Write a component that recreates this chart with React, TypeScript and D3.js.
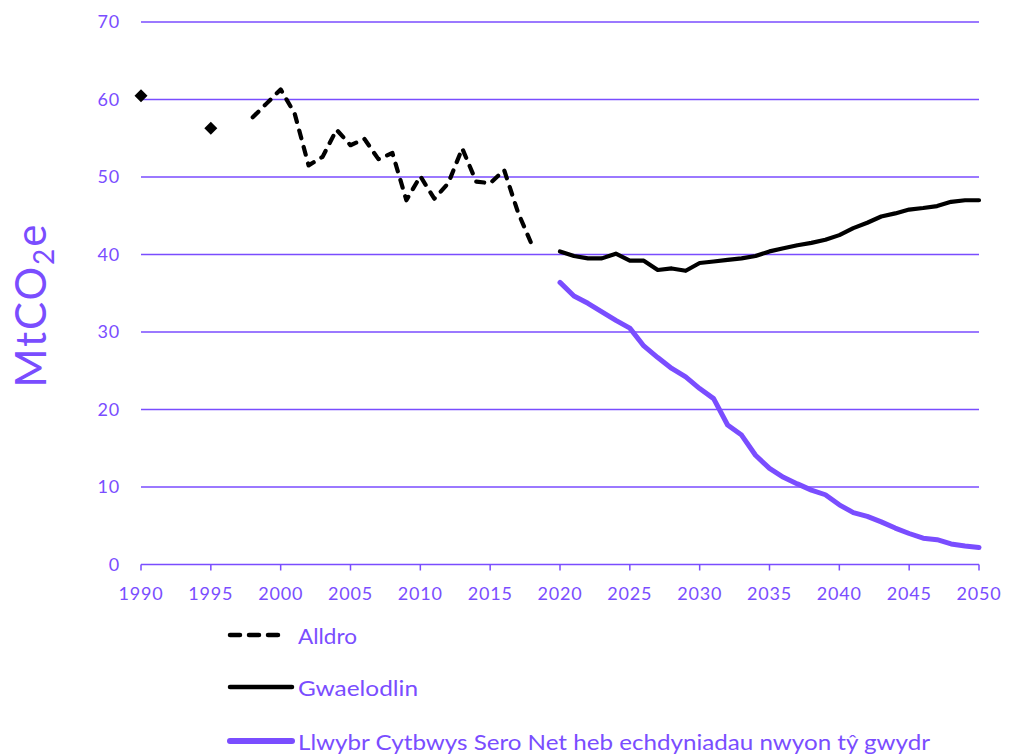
import React from "react";
import * as d3 from "d3";

const PURPLE = "#7a4dff";

const historicYears = [1990, 1995];
const historicValues = [60.5, 56.3];

const alldroYears = [1998, 1999, 2000, 2001, 2002, 2003, 2004, 2005, 2006, 2007, 2008, 2009, 2010, 2011, 2012, 2013, 2014, 2015, 2016, 2017, 2018];
const alldroValues = [57.7, 59.5, 61.3, 58.2, 51.5, 52.6, 56.1, 54.1, 54.9, 52.3, 53.1, 47.0, 50.1, 47.2, 49.2, 53.7, 49.4, 49.2, 50.9, 45.4, 41.2];

const projYears = [2020, 2021, 2022, 2023, 2024, 2025, 2026, 2027, 2028, 2029, 2030, 2031, 2032, 2033, 2034, 2035, 2036, 2037, 2038, 2039, 2040, 2041, 2042, 2043, 2044, 2045, 2046, 2047, 2048, 2049, 2050];
const baselineValues = [40.4, 39.8, 39.5, 39.5, 40.1, 39.2, 39.2, 38.0, 38.2, 37.9, 38.9, 39.1, 39.3, 39.5, 39.8, 40.4, 40.8, 41.2, 41.5, 41.9, 42.5, 43.4, 44.1, 44.9, 45.3, 45.8, 46.0, 46.25, 46.8, 47.0, 47.0];
const netZeroValues = [36.4, 34.65, 33.7, 32.6, 31.5, 30.5, 28.2, 26.7, 25.3, 24.2, 22.7, 21.4, 18.0, 16.7, 14.1, 12.4, 11.25, 10.4, 9.6, 9.0, 7.7, 6.7, 6.2, 5.5, 4.7, 4.0, 3.4, 3.2, 2.65, 2.4, 2.2];

const yTicks = [0, 10, 20, 30, 40, 50, 60, 70];
const xTicks = [1990, 1995, 2000, 2005, 2010, 2015, 2020, 2025, 2030, 2035, 2040, 2045, 2050];

const legendLabels = ["Alldro", "Gwaelodlin", "Llwybr Cytbwys Sero Net heb echdyniadau nwyon tŷ gwydr"];
const legendWidths = [59, 120, 632];

const FONT = "'Century Gothic', 'Lato', 'Open Sans', sans-serif";

export default function App() {
  const W = 1022, H = 754;
  const x = d3.scaleLinear().domain([1990, 2050]).range([141, 979]);
  const y = d3.scaleLinear().domain([0, 70]).range([564.5, 22]);
  const line = d3.line<[number, number]>().x(d => x(d[0])).y(d => y(d[1]));

  const alldro = line(alldroYears.map((yr, i) => [yr, alldroValues[i]]));
  const base = line(projYears.map((yr, i) => [yr, baselineValues[i]]));
  const nz = line(projYears.map((yr, i) => [yr, netZeroValues[i]]));

  const legendY = [635, 687, 741];

  return (
    <svg width={W} height={H} style={{ position: "absolute", left: 0, top: 0, background: "#fff" }} fontFamily={FONT}>
      {yTicks.filter(t => t > 0).map(t => (
        <line key={t} x1={x(1990)} x2={x(2050)} y1={y(t)} y2={y(t)} stroke={PURPLE} strokeWidth={1.5} />
      ))}
      <line x1={x(1990)} x2={x(2050)} y1={y(0)} y2={y(0)} stroke={PURPLE} strokeWidth={1.5} />
      {xTicks.map(t => (
        <line key={t} x1={x(t)} x2={x(t)} y1={y(0)} y2={y(0) + 6} stroke={PURPLE} strokeWidth={1.5} />
      ))}
      {yTicks.map(t => (
        <text key={t} x={120} y={y(t)} dy="0.36em" textAnchor="end" fontSize={18} letterSpacing={0.8} fill={PURPLE}>{t}</text>
      ))}
      {xTicks.map(t => (
        <text key={t} x={x(t)} y={600} textAnchor="middle" fontSize={18} letterSpacing={0.8} fill={PURPLE}>{t}</text>
      ))}
      <text transform="translate(46,305) rotate(-90)" textAnchor="middle" fontSize={42} fill={PURPLE} letterSpacing={2}>
        MtCO<tspan fontSize={28} dy={8}>2</tspan><tspan dy={-8}>e</tspan>
      </text>

      <path d={nz || ""} fill="none" stroke={PURPLE} strokeWidth={5} strokeLinejoin="round" strokeLinecap="round" />
      <path d={base || ""} fill="none" stroke="#000" strokeWidth={4.2} strokeLinejoin="round" strokeLinecap="round" />
      <path d={alldro || ""} fill="none" stroke="#000" strokeWidth={4.2} strokeDasharray="8 9" strokeLinecap="round" strokeLinejoin="round" />

      {historicYears.map((yr, i) => {
        const cx = x(yr), cy = y(historicValues[i]);
        const s = 6.5;
        return <path key={yr} d={`M${cx},${cy - s}L${cx + s},${cy}L${cx},${cy + s}L${cx - s},${cy}Z`} fill="#000" />;
      })}

      {legendLabels.map((lab, i) => (
        <g key={lab}>
          <line x1={230} x2={i === 0 ? 286 : 292} y1={legendY[i]} y2={legendY[i]}
            stroke={i === 2 ? PURPLE : "#000"} strokeWidth={i === 2 ? 6 : 4.5}
            strokeDasharray={i === 0 ? "10 9" : undefined} strokeLinecap="round" />
          <text x={298} y={legendY[i] + 1} dy="0.36em" fontSize={21} fill={PURPLE}
            textLength={legendWidths[i]} lengthAdjust="spacingAndGlyphs">{lab}</text>
        </g>
      ))}
    </svg>
  );
}
